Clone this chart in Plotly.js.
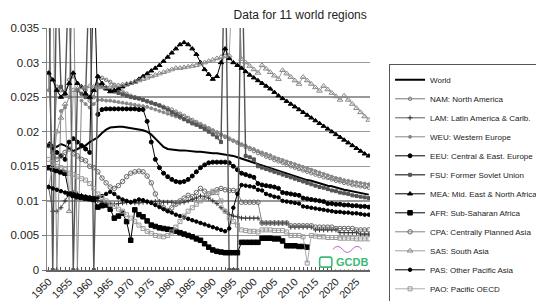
<!DOCTYPE html>
<html><head><meta charset="utf-8">
<script src="https://cdn.plot.ly/plotly-3.0.1.min.js"></script>
<style>html,body{margin:0;padding:0;background:#fff}#chart{width:536px;height:301px}</style>
</head><body><div id="chart"></div>
<script>
const years = [];
for (let y = 1950; y <= 2028; y++) years.push(y);

const regionNames = ["World","NAM: North America","LAM: Latin America & Carlb.","WEU: Western Europe",
  "EEU: Central & East. Europe","FSU: Former Sovlet Union","MEA: Mid. East & North Africa",
  "AFR: Sub-Saharan Africa","CPA: Centrally Planned Asia","SAS: South Asia","PAS: Other Pacific Asia","PAO: Pacific OECD"];

const world = [
 0.0185,0.0180,0.0178,0.0182,0.0180,0.0176,0.0172,0.0175,0.0178,0.0180,
 0.0185,0.0188,0.0192,0.0198,0.0203,0.0206,0.0207,0.0207,0.0207,0.0206,
 0.0206,0.0205,0.0204,0.0202,0.0200,0.0196,0.0190,0.0184,0.0178,0.0175,
 0.0174,0.0174,0.0173,0.0173,0.0172,0.0172,0.0171,0.0171,0.0170,0.0170,
 0.0169,0.0169,0.0168,0.0168,0.0166,0.0165,0.0163,0.0161,0.0159,0.0157,
 0.0155,0.0153,0.0151,0.0149,0.0147,0.0145,0.0143,0.0141,0.0139,0.0137,
 0.0135,0.0134,0.0132,0.0130,0.0129,0.0127,0.0125,0.0124,0.0122,0.0121,
 0.0119,0.0118,0.0116,0.0115,0.0114,0.0112,0.0111,0.0110,0.0109];
const nam = [
 0.0285,0.0150,0.0265,0.0260,0.0255,0.0275,0.0280,0.0270,0.0265,0.0260,
 0.0245,0.0250,0.0280,0.0278,0.0275,0.0272,0.0268,0.0262,0.0258,0.0255,
 0.0252,0.0250,0.0248,0.0246,0.0244,0.0242,0.0240,0.0238,0.0236,0.0234,
 0.0232,0.0229,0.0226,0.0223,0.0220,0.0217,0.0214,0.0211,0.0208,0.0205,
 0.0202,0.0199,0.0196,0.0193,0.0190,0.0187,0.0184,0.0181,0.0178,0.0175,
 0.0172,0.0169,0.0167,0.0164,0.0162,0.0159,0.0157,0.0155,0.0152,0.0150,
 0.0148,0.0146,0.0144,0.0142,0.0140,0.0138,0.0136,0.0134,0.0133,0.0131,
 0.0129,0.0128,0.0126,0.0125,0.0123,0.0122,0.0121,0.0120,0.0119];
const lam = [
 0.0120,0.0085,0.0085,0.0090,0.0100,0.0110,0.0112,0.0110,0.0108,0.0106,
 0.0105,0.0103,0.0100,0.0098,0.0097,0.0096,0.0095,0.0096,0.0097,0.0098,
 0.0098,0.0097,0.0097,0.0098,0.0098,0.0098,0.0099,0.0099,0.0098,0.0098,
 0.0098,0.0097,0.0097,0.0098,0.0100,0.0102,0.0104,0.0107,0.0106,0.0104,
 0.0100,0.0096,0.0090,0.0085,0.0080,0.0078,0.0077,0.0075,0.0075,0.0075,
 0.0075,0.0075,0.0068,0.0068,0.0068,0.0068,0.0068,0.0068,0.0068,0.0062,
 0.0062,0.0062,0.0062,0.0062,0.0062,0.0058,0.0058,0.0058,0.0058,0.0058,
 0.0058,0.0054,0.0054,0.0054,0.0054,0.0054,0.0052,0.0052,0.0052];
const weu = [
 0.0260,0.0450,0.0000,0.0230,0.0235,0.0250,0.0450,0.0000,0.0245,0.0240,
 0.0235,0.0240,0.0246,0.0246,0.0245,0.0245,0.0244,0.0243,0.0242,0.0241,
 0.0240,0.0239,0.0238,0.0237,0.0236,0.0234,0.0232,0.0230,0.0228,0.0226,
 0.0224,0.0222,0.0220,0.0218,0.0216,0.0214,0.0212,0.0210,0.0207,0.0204,
 0.0201,0.0198,0.0195,0.0192,0.0189,0.0187,0.0185,0.0182,0.0180,0.0177,
 0.0175,0.0172,0.0170,0.0168,0.0166,0.0163,0.0161,0.0159,0.0157,0.0155,
 0.0153,0.0151,0.0149,0.0147,0.0145,0.0143,0.0141,0.0139,0.0137,0.0135,
 0.0133,0.0132,0.0130,0.0129,0.0128,0.0127,0.0126,0.0125,0.0124];
const eeu = [
 0.0180,0.0175,0.0170,0.0165,0.0160,0.0185,0.0190,0.0185,0.0180,0.0175,
 0.0170,0.0450,0.0225,0.0232,0.0233,0.0233,0.0233,0.0233,0.0233,0.0233,
 0.0233,0.0233,0.0232,0.0232,0.0215,0.0185,0.0160,0.0148,0.0140,0.0135,
 0.0131,0.0128,0.0127,0.0128,0.0131,0.0136,0.0142,0.0148,0.0152,0.0155,
 0.0156,0.0156,0.0156,0.0156,0.0155,0.0150,0.0145,0.0140,0.0138,0.0136,
 0.0134,0.0125,0.0123,0.0122,0.0121,0.0120,0.0118,0.0112,0.0111,0.0110,
 0.0109,0.0108,0.0104,0.0103,0.0102,0.0101,0.0100,0.0099,0.0096,0.0096,
 0.0095,0.0095,0.0094,0.0094,0.0093,0.0093,0.0092,0.0092,0.0091];
const fsu = [
 0.0450,0.0000,0.0450,0.0265,0.0255,0.0450,0.0000,0.0260,0.0255,0.0250,
 0.0450,0.0000,0.0268,0.0266,0.0263,0.0260,0.0258,0.0256,0.0254,0.0252,
 0.0250,0.0249,0.0248,0.0246,0.0244,0.0242,0.0240,0.0238,0.0235,0.0232,
 0.0228,0.0225,0.0222,0.0218,0.0215,0.0212,0.0210,0.0207,0.0204,0.0200,
 0.0196,0.0192,0.0185,0.0500,0.0000,0.0000,0.0000,0.0500,0.0165,0.0163,
 0.0160,0.0150,0.0148,0.0146,0.0144,0.0142,0.0140,0.0138,0.0136,0.0134,
 0.0132,0.0130,0.0128,0.0126,0.0124,0.0122,0.0120,0.0119,0.0117,0.0115,
 0.0114,0.0112,0.0111,0.0110,0.0108,0.0107,0.0106,0.0105,0.0104];
const mea = [
 0.0285,0.0275,0.0260,0.0250,0.0255,0.0270,0.0285,0.0270,0.0265,0.0255,
 0.0250,0.0260,0.0280,0.0270,0.0262,0.0258,0.0260,0.0262,0.0265,0.0268,
 0.0270,0.0272,0.0276,0.0280,0.0284,0.0288,0.0292,0.0296,0.0302,0.0308,
 0.0314,0.0320,0.0326,0.0329,0.0326,0.0320,0.0312,0.0300,0.0290,0.0283,
 0.0276,0.0280,0.0300,0.0320,0.0306,0.0300,0.0296,0.0292,0.0287,0.0282,
 0.0278,0.0274,0.0270,0.0266,0.0262,0.0257,0.0252,0.0248,0.0244,0.0240,
 0.0236,0.0232,0.0228,0.0224,0.0220,0.0216,0.0212,0.0208,0.0204,0.0200,
 0.0196,0.0192,0.0188,0.0184,0.0180,0.0176,0.0172,0.0168,0.0165];
const afr = [
 0.0148,0.0146,0.0144,0.0142,0.0140,0.0110,0.0108,0.0106,0.0105,0.0104,
 0.0103,0.0102,0.0091,0.0093,0.0094,0.0088,0.0075,0.0078,0.0082,0.0070,
 0.0043,0.0087,0.0080,0.0077,0.0071,0.0065,0.0063,0.0061,0.0060,0.0059,
 0.0058,0.0056,0.0054,0.0052,0.0050,0.0048,0.0045,0.0043,0.0038,0.0033,
 0.0029,0.0027,0.0026,0.0025,0.0025,0.0025,0.0025,0.0040,0.0040,0.0040,
 0.0040,0.0040,0.0046,0.0046,0.0046,0.0045,0.0045,0.0042,0.0035,0.0035,
 0.0035,0.0034,0.0034,0.0033,null,null,null,null,null,null,
 null,null,null,null,null,0.0012,null,null,null];
const cpa = [
 0.0180,0.0170,0.0160,0.0165,0.0170,0.0175,0.0168,0.0165,0.0160,0.0158,
 0.0150,0.0148,0.0142,0.0133,0.0126,0.0120,0.0118,0.0122,0.0128,0.0135,
 0.0140,0.0142,0.0143,0.0142,0.0136,0.0126,0.0110,0.0098,0.0090,0.0086,
 0.0090,0.0095,0.0100,0.0104,0.0108,0.0106,0.0112,0.0118,0.0114,0.0110,
 0.0112,0.0116,0.0118,0.0116,0.0115,0.0115,0.0114,0.0098,0.0098,0.0098,
 0.0098,0.0098,0.0068,0.0068,0.0068,0.0068,0.0068,0.0068,0.0068,0.0064,
 0.0064,0.0064,0.0064,0.0064,0.0064,0.0062,0.0062,0.0062,0.0062,0.0062,
 0.0060,0.0060,0.0060,0.0060,0.0060,0.0058,0.0058,0.0058,0.0058];
const sas = [
 0.0120,0.0150,0.0200,0.0220,0.0240,0.0085,0.0260,0.0262,0.0264,0.0265,
 0.0266,0.0265,0.0265,0.0264,0.0264,0.0265,0.0266,0.0267,0.0268,0.0269,
 0.0270,0.0272,0.0274,0.0276,0.0278,0.0280,0.0282,0.0284,0.0286,0.0288,
 0.0290,0.0292,0.0292,0.0293,0.0294,0.0295,0.0296,0.0298,0.0300,0.0302,
 0.0304,0.0306,0.0308,0.0309,0.0310,0.0450,0.0450,0.0305,0.0300,0.0295,
 0.0290,0.0285,0.0296,0.0291,0.0286,0.0281,0.0276,0.0289,0.0284,0.0279,
 0.0274,0.0269,0.0279,0.0274,0.0269,0.0264,0.0259,0.0266,0.0261,0.0256,
 0.0251,0.0246,0.0252,0.0246,0.0240,0.0234,0.0228,0.0222,0.0217];
const pas = [
 0.0120,0.0118,0.0116,0.0114,0.0112,0.0110,0.0109,0.0108,0.0107,0.0106,
 0.0105,0.0104,0.0105,0.0107,0.0110,0.0113,0.0110,0.0105,0.0102,0.0100,
 0.0098,0.0100,0.0102,0.0101,0.0099,0.0097,0.0094,0.0091,0.0088,0.0085,
 0.0083,0.0080,0.0078,0.0076,0.0074,0.0072,0.0070,0.0068,0.0066,0.0064,
 0.0062,0.0060,0.0058,0.0056,0.0060,0.0090,0.0110,0.0123,0.0122,0.0121,
 0.0120,0.0116,0.0115,0.0110,0.0108,0.0106,0.0105,0.0100,0.0099,0.0098,
 0.0097,0.0096,0.0092,0.0091,0.0090,0.0089,0.0088,0.0087,0.0086,0.0085,
 0.0084,0.0084,0.0083,0.0083,0.0082,0.0082,0.0081,0.0080,0.0080];
const pao = [
 0.0160,0.0155,0.0150,0.0148,0.0145,0.0140,0.0138,0.0135,0.0132,0.0130,
 0.0125,0.0118,0.0110,0.0105,0.0100,0.0095,0.0092,0.0088,0.0085,0.0080,
 0.0075,0.0070,0.0065,0.0060,0.0056,0.0053,0.0050,0.0049,0.0048,0.0050,
 0.0055,0.0062,0.0070,0.0078,0.0085,0.0090,0.0095,0.0100,0.0105,0.0110,
 0.0114,0.0112,0.0100,0.0085,0.0075,0.0070,0.0065,0.0058,0.0057,0.0056,
 0.0056,0.0055,0.0058,0.0058,0.0058,0.0057,0.0057,0.0057,0.0055,0.0050,
 0.0050,0.0050,0.0048,0.0010,0.0050,0.0049,0.0048,0.0048,0.0047,0.0047,
 0.0047,0.0046,0.0046,0.0046,0.0046,0.0045,0.0045,0.0045,0.0045];

const seriesValues = [world, nam, lam, weu, eeu, fsu, mea, afr, cpa, sas, pas, pao];
const styles = [
  {c:'#000', w:2, m:null},
  {c:'#777', w:1, m:{symbol:'circle-open', size:3.5}},
  {c:'#333', w:0.8, m:{symbol:'cross-thin-open', size:3.5}},
  {c:'#888', w:1, m:{symbol:'circle', size:3}},
  {c:'#000', w:1, m:{symbol:'circle', size:4}},
  {c:'#555', w:1.4, m:{symbol:'square', size:3}},
  {c:'#000', w:1, m:{symbol:'triangle-up', size:4.5}},
  {c:'#000', w:1, m:{symbol:'square', size:4.5}},
  {c:'#666', w:0.8, m:{symbol:'circle-open', size:4.5}},
  {c:'#888', w:0.8, m:{symbol:'triangle-up-open', size:5}},
  {c:'#000', w:1, m:{symbol:'circle', size:3.5}},
  {c:'#999', w:0.8, m:{symbol:'square-open', size:4}}
];

const traces = seriesValues.map((vals, i) => {
  const s = styles[i];
  const t = {x: years, y: vals, name: regionNames[i], type:'scatter',
    mode: s.m ? 'lines+markers' : 'lines', line:{color:s.c, width:s.w}};
  if (s.m) t.marker = {symbol:s.m.symbol, size:s.m.size, color:s.c, line:{color:s.c, width:1}};
  return t;
});

const layout = {
  width:536, height:301,
  margin:{l:47, r:166, t:28, b:31, autoexpand:false},
  paper_bgcolor:'#fff', plot_bgcolor:'#fff',
  font:{family:'Liberation Sans, Arial, sans-serif', color:'#222', size:11},
  title:{text:'Data for 11 world regions', x:0.56, xanchor:'center', y:0.952, yanchor:'middle',
         font:{size:12, color:'#222'}},
  xaxis:{range:[1949.6, 2028.3], tickmode:'linear', tick0:1950, dtick:5, tickangle:-45,
         ticks:'inside', ticklen:3, tickcolor:'#555', showgrid:false, zeroline:false,
         showline:true, linecolor:'#666', linewidth:1.5, tickfont:{size:10.5, color:'#222'},
         ticklabelstandoff:0,
         minor:{dtick:1, ticks:'inside', ticklen:3, tickcolor:'#555'}},
  yaxis:{range:[0, 0.035], tickmode:'linear', tick0:0, dtick:0.005, ticks:'outside', ticklen:4,
         tickcolor:'#777', showgrid:true, gridcolor:'#999', gridwidth:1.5, zeroline:false,
         showline:true, linecolor:'#888', linewidth:1.5, tickfont:{size:11.5, color:'#222'}},
  legend:{x:1.059, xanchor:'left', y:0.85, yanchor:'top', bgcolor:'#fff', bordercolor:'#555',
          borderwidth:1, font:{size:8, color:'#222'}, itemwidth:30, tracegroupgap:0, maxheight:270},
  showlegend:true,
  shapes:[
    {type:'path', xref:'paper', yref:'paper', layer:'above',
     path:'M 0.850 0.012 L 0.876 0.012 Q 0.882 0.012 0.882 0.025 L 0.882 0.040 Q 0.882 0.053 0.876 0.053 L 0.850 0.053 Q 0.844 0.053 0.844 0.040 L 0.844 0.025 Q 0.844 0.012 0.850 0.012 Z',
     line:{color:'#3dba78', width:1.6}, fillcolor:'rgba(255,255,255,1)'},
    {type:'path', xref:'paper', yref:'paper', layer:'above',
     path:'M 0.885 0.085 Q 0.90 0.11 0.915 0.085 Q 0.93 0.06 0.945 0.085 Q 0.96 0.11 0.975 0.085',
     line:{color:'#c05fc0', width:1}}
  ],
  annotations:[{xref:'paper', yref:'paper', x:0.889, y:0.034, xanchor:'left', yanchor:'middle',
    text:'<b>GCDB</b>', showarrow:false, font:{size:11, color:'#3dba78'}, bgcolor:'#fff',
    borderpad:1}]
};

Plotly.newPlot('chart', traces, layout, {displayModeBar:false, staticPlot:true});
</script></body></html>
